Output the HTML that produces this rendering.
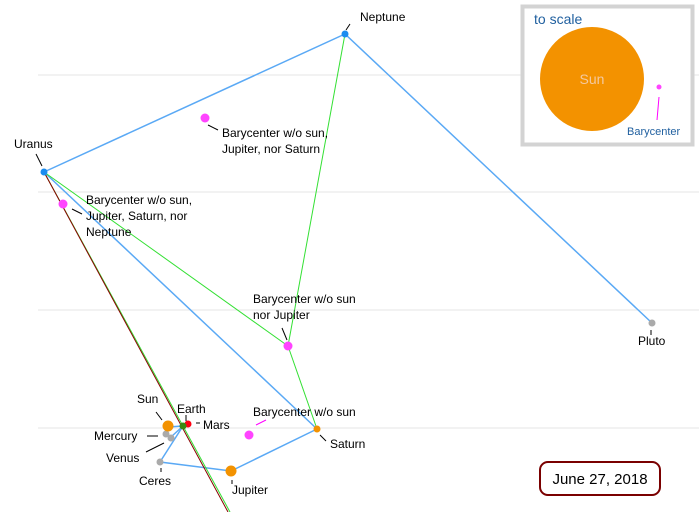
<!DOCTYPE html>
<html><head><style>body{margin:0;background:#fff}svg{display:block}text{font-family:"Liberation Sans",sans-serif;font-size:12px;fill:#000}</style></head><body>
<svg width="699" height="512" viewBox="0 0 699 512">
<g stroke="#e6e6e6" stroke-width="1">
<line x1="38" y1="75" x2="699" y2="75"/><line x1="38" y1="192" x2="699" y2="192"/><line x1="38" y1="310" x2="699" y2="310"/><line x1="38" y1="428" x2="699" y2="428"/>
</g>
<g fill="none" stroke="#5aa9f5" stroke-width="1.5">
<polyline points="44,172 345,34 652,323"/>
<line x1="44" y1="172" x2="317" y2="429"/>
<polyline points="317,429 231,471 160,462 183,426 168,427"/>
<line x1="183" y1="426" x2="171" y2="437"/>
</g>
<g stroke="#33e033" stroke-width="1" fill="none">
<line x1="44" y1="172" x2="288" y2="346"/>
<polyline points="345,34 288,346 317,429"/>
<line x1="44" y1="172" x2="230" y2="512"/>
</g>
<line x1="44" y1="172" x2="228" y2="512" stroke="#8b0000" stroke-width="1"/>
<g stroke="#000" stroke-width="1">
<line x1="350" y1="24" x2="346" y2="30"/><line x1="36" y1="154" x2="42" y2="166"/><line x1="72" y1="209" x2="82" y2="214"/>
<line x1="208" y1="125" x2="218" y2="130"/><line x1="282" y1="328" x2="287" y2="340"/><line x1="320" y1="435" x2="326" y2="441"/>
<line x1="651" y1="330" x2="651" y2="335"/><line x1="156" y1="412" x2="162" y2="420"/><line x1="186" y1="415" x2="186" y2="421"/>
<line x1="196" y1="423" x2="200" y2="423"/><line x1="147" y1="436" x2="158" y2="436"/><line x1="146" y1="452" x2="164" y2="443"/>
<line x1="161" y1="468" x2="161" y2="472"/><line x1="232" y1="480" x2="232" y2="484"/>
</g>
<line x1="256" y1="425" x2="266" y2="420" stroke="#f0f" stroke-width="1"/>
<g>
<circle cx="345" cy="34" r="3.5" fill="#1a8cf0"/><circle cx="44" cy="172" r="3.5" fill="#1a8cf0"/>
<circle cx="652" cy="323" r="3.5" fill="#aaa"/>
<circle cx="205" cy="118" r="4.5" fill="#f4f"/><circle cx="63" cy="204" r="4.5" fill="#f4f"/><circle cx="288" cy="346" r="4.5" fill="#f4f"/><circle cx="249" cy="435" r="4.5" fill="#f4f"/>
<circle cx="317" cy="429" r="3.5" fill="#f39200"/>
<circle cx="231" cy="471" r="5.5" fill="#f39200"/>
<circle cx="160" cy="462" r="3.5" fill="#aaa"/>
<circle cx="166" cy="434" r="3.5" fill="#aaa"/><circle cx="171" cy="438" r="3.5" fill="#aaa"/>
<circle cx="168" cy="426" r="5.5" fill="#f39200"/>
<circle cx="188" cy="424" r="3.5" fill="#f01"/>
<circle cx="183" cy="426" r="3.5" fill="#3a8a10"/>
</g>
<text x="360" y="21">Neptune</text>
<text x="14" y="148">Uranus</text>
<text x="222" y="137">Barycenter w/o sun,</text><text x="222" y="153">Jupiter, nor Saturn</text>
<text x="86" y="204">Barycenter w/o sun,</text><text x="86" y="220">Jupiter, Saturn, nor</text><text x="86" y="236">Neptune</text>
<text x="253" y="303">Barycenter w/o sun</text><text x="253" y="319">nor Jupiter</text>
<text x="253" y="416">Barycenter w/o sun</text>
<text x="330" y="448">Saturn</text>
<text x="638" y="345">Pluto</text>
<text x="137" y="403">Sun</text><text x="177" y="413">Earth</text><text x="203" y="429">Mars</text>
<text x="94" y="440">Mercury</text><text x="106" y="462">Venus</text><text x="139" y="485">Ceres</text><text x="232" y="494">Jupiter</text>
<rect x="522.5" y="6.5" width="170" height="138" fill="#fff" stroke="#d3d3d3" stroke-width="4"/>
<text x="534" y="24" style="font-size:14px;fill:#1f5f9f">to scale</text>
<circle cx="592" cy="79" r="52" fill="#f39200"/>
<text x="592" y="84" text-anchor="middle" style="font-size:14px;fill:#f3c9a0">Sun</text>
<circle cx="659" cy="87" r="2.5" fill="#f4f"/>
<line x1="659" y1="97" x2="657" y2="120" stroke="#f0f"/>
<text x="627" y="135" style="font-size:11px;fill:#1f5f9f">Barycenter</text>
<rect x="540" y="462" width="120" height="33" rx="8" fill="#fff" stroke="#7a0000" stroke-width="2"/>
<text x="600" y="484" text-anchor="middle" style="font-size:15px">June 27, 2018</text>
</svg>
</body></html>
